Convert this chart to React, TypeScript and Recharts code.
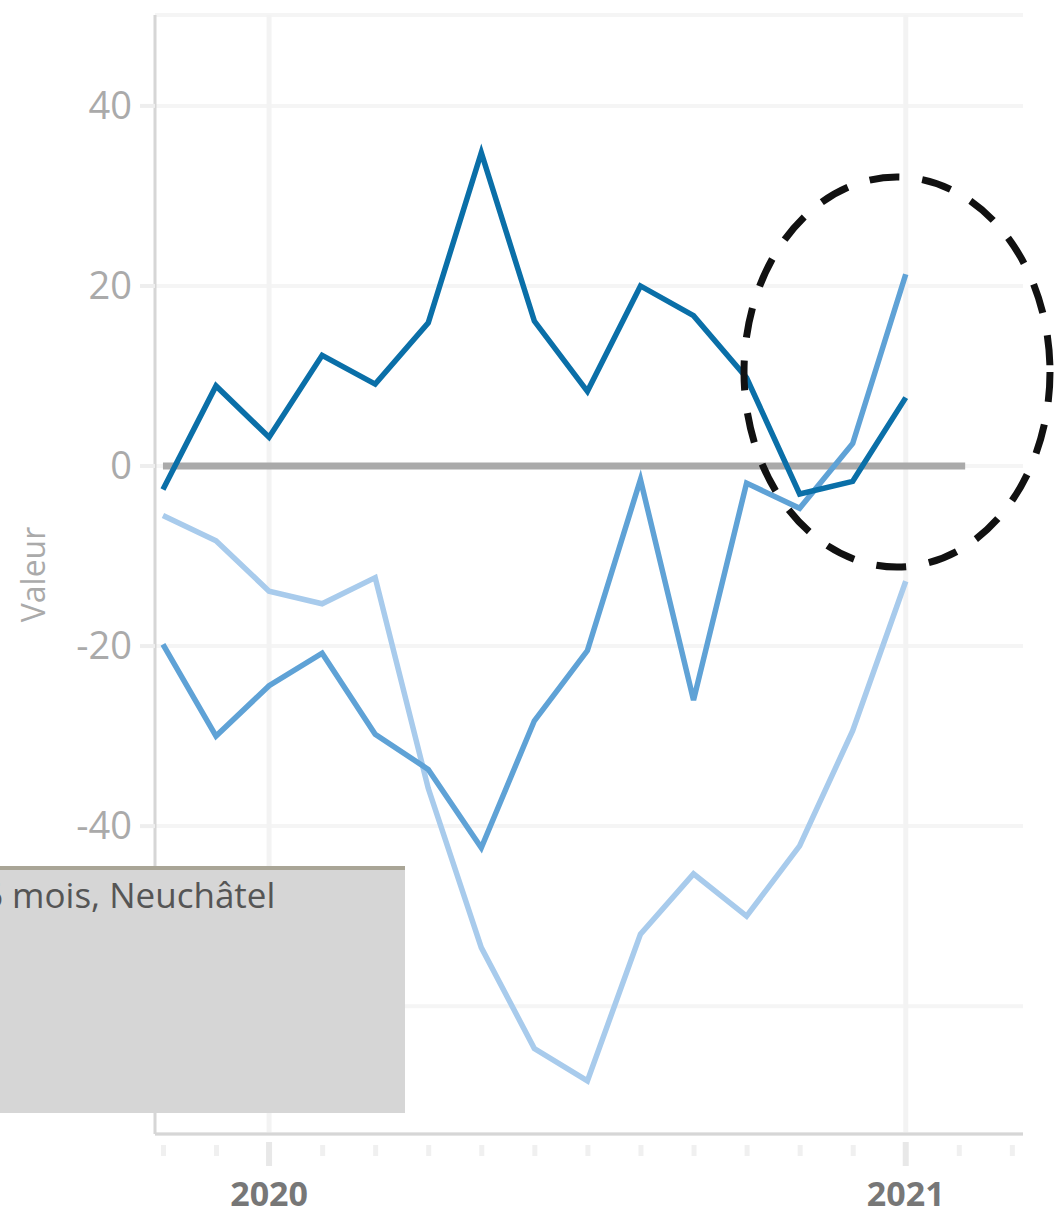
import React from 'react';
import { LineChart, Line, XAxis, YAxis, CartesianGrid, ReferenceLine } from 'recharts';

// month index 0 = Nov 2019 ... 14 = Jan 2021
const months = [
  '2019-11', '2019-12', '2020-01', '2020-02', '2020-03', '2020-04', '2020-05', '2020-06',
  '2020-07', '2020-08', '2020-09', '2020-10', '2020-11', '2020-12', '2021-01',
];
const serieFoncee = [-2.6, 8.9, 3.2, 12.3, 9.1, 15.9, 34.8, 16.1, 8.3, 20.0, 16.7, 9.8, -3.1, -1.7, 7.6];
const serieMoyenne = [-19.8, -30.0, -24.4, -20.8, -29.8, -33.7, -42.4, -28.3, -20.5, -1.5, -26.0, -1.9, -4.7, 2.5, 21.3];
const serieClaire = [-5.5, -8.3, -13.9, -15.3, -12.4, -35.8, -53.5, -64.7, -68.3, -52.0, -45.3, -50.0, -42.2, -29.4, -12.8];

const yTicks = [-60, -40, -20, 0, 20, 40];
const xTicks = [0, 1, 2, 3, 4, 5, 6, 7, 8, 9, 10, 11, 12, 13, 14, 15, 16];
const yearTicks: Record<number, string> = { 2: '2020', 14: '2021' };
const legendText = '6 mois, Neuchâtel';

const data = months.map((m, i) => ({
  m,
  i,
  fonce: serieFoncee[i],
  moyen: serieMoyenne[i],
  clair: serieClaire[i],
}));

const font = '"Open Sans", "DejaVu Sans", sans-serif';

function YTick(props: any) {
  const { x, y, payload } = props;
  return (
    <text x={x - 6} y={y} dy="0.35em" textAnchor="end" fontSize={38} fill="#aaaaaa" fontFamily={font}>
      {payload.value}
    </text>
  );
}

function XTick(props: any) {
  const { x, y, payload } = props;
  const label = yearTicks[payload.value];
  if (label) {
    return (
      <g>
        <rect x={x - 3} y={y} width={6} height={24} fill="#e8e8e8" />
        <text x={x} y={y + 64} textAnchor="middle" fontSize={34} fontWeight="bold" fill="#777777" fontFamily={font}>
          {label}
        </text>
      </g>
    );
  }
  return <rect x={x - 2} y={y + 3} width={5} height={11} fill="#f0f0f0" />;
}

export default function App() {
  return (
    <div style={{ position: 'absolute', left: 0, top: 0, width: 1062, height: 1210, background: '#fff' }}>
      <LineChart
        width={1062}
        height={1210}
        data={data}
        margin={{ top: 15, right: 39, left: 0, bottom: 0 }}
      >
        <CartesianGrid vertical={false} stroke="#f5f5f5" strokeWidth={4} />
        <ReferenceLine x={2} stroke="#f3f3f3" strokeWidth={5} />
        <ReferenceLine x={14} stroke="#f3f3f3" strokeWidth={5} />
        <XAxis
          dataKey="i"
          type="number"
          domain={[-0.15, 16.21]}
          allowDataOverflow
          ticks={xTicks}
          interval={0}
          height={76}
          stroke="#d6d6d6"
          strokeWidth={3}
          tickLine={false}
          tick={<XTick />}
        />
        <YAxis
          type="number"
          domain={[-74.2, 50.1]}
          allowDataOverflow
          ticks={yTicks}
          interval={0}
          width={155}
          stroke="#d6d6d6"
          strokeWidth={3}
          tickSize={15}
          tickLine={{ stroke: '#eeeeee', strokeWidth: 4 }}
          tick={<YTick />}
          label={{
            value: 'Valeur',
            angle: -90,
            position: 'insideLeft',
            offset: 34,
            style: { fontSize: 32, fill: '#aaaaaa', fontFamily: font, textAnchor: 'middle' },
          }}
        />
        <ReferenceLine
          segment={[{ x: 0, y: 0 }, { x: 15.12, y: 0 }]}
          stroke="#aaaaaa"
          strokeWidth={7}
        />
        <Line type="linear" dataKey="clair" stroke="#a8cbec" strokeWidth={5.5} dot={false} isAnimationActive={false} />
        <Line type="linear" dataKey="moyen" stroke="#5fa2d6" strokeWidth={5.5} dot={false} isAnimationActive={false} />
        <Line type="linear" dataKey="fonce" stroke="#0a6fa8" strokeWidth={5.5} dot={false} isAnimationActive={false} />
      </LineChart>
      <svg
        width={1062}
        height={1210}
        style={{ position: 'absolute', left: 0, top: 0, pointerEvents: 'none' }}
      >
        <ellipse
          cx={897}
          cy={372}
          rx={153}
          ry={195}
          fill="none"
          stroke="#111111"
          strokeWidth={7}
          strokeDasharray="30 23"
        />
        <rect x={0} y={867} width={405} height={246} fill="#d6d6d6" />
        <rect x={0} y={866} width={405} height={4} fill="#a9a596" />
        <text x={-17} y={908} fontSize={35} fill="#555555" fontFamily={font}>
          {legendText}
        </text>
      </svg>
    </div>
  );
}
